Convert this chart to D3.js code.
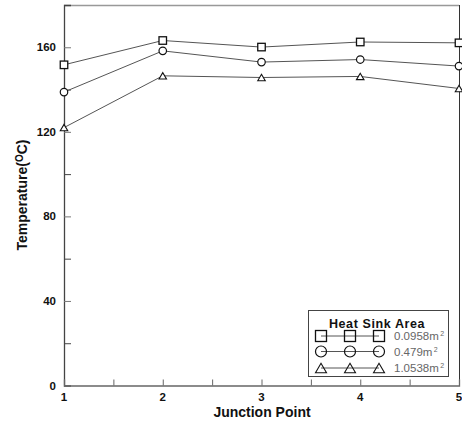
<!DOCTYPE html>
<html><head><meta charset="utf-8">
<script src="https://cdn.jsdelivr.net/npm/d3@7"></script>
<style>body{margin:0;background:#fff;} svg{display:block;font-family:"Liberation Sans",Arial,sans-serif;}</style>
</head><body><svg id="c" width="462" height="423"></svg>
<script>
const junctions = [1, 2, 3, 4, 5];
const seriesNames = ["0.0958", "0.479", "1.0538"];
const seriesShapes = ["square", "circle", "triangle"];
const area00958 = [151.7, 163.2, 160.1, 162.5, 162.1];
const area0479 = [138.8, 158.3, 153.0, 154.2, 151.1];
const area10538 = [122.0, 146.5, 145.7, 146.2, 140.5];
const seriesValues = [area00958, area0479, area10538];
const yMajorTicks = [0, 40, 80, 120, 160];
const yMinorTicks = [20, 60, 100, 140];
const xMajorTicks = [1, 2, 3, 4, 5];
const xMinorTicks = [1.5, 2.5, 3.5, 4.5];

const svg = d3.select("#c");
const L = 64, R = 459, T = 5, B = 385.5;
const x = d3.scaleLinear().domain([1, 5]).range([L, R]);
const y = d3.scaleLinear().domain([0, 180]).range([B, T]);

// frame
svg.append("line").attr("x1", L).attr("x2", R).attr("y1", T + 0.5).attr("y2", T + 0.5).attr("stroke", "#999").attr("stroke-width", 1.5);
svg.append("line").attr("x1", R + 0.5).attr("x2", R + 0.5).attr("y1", T).attr("y2", B).attr("stroke", "#333").attr("stroke-width", 1);

// y axis
const yAxis = d3.axisRight(y).tickValues(yMajorTicks).tickSize(7).tickFormat("");
const gy = svg.append("g").attr("transform", `translate(${L},0)`).call(yAxis);
gy.select(".domain").attr("stroke", "#444").attr("stroke-width", 1.3);
gy.selectAll(".tick line").attr("stroke", "#777");
const gy2 = svg.append("g").attr("transform", `translate(${L},0)`).call(d3.axisRight(y).tickValues(yMinorTicks).tickSize(7).tickFormat(""));
gy2.select(".domain").remove();
gy2.selectAll(".tick line").attr("stroke", "#444");
svg.append("g").selectAll("text").data(yMajorTicks).join("text")
  .attr("x", 56).attr("y", d => y(d) + 4).attr("text-anchor", "end")
  .attr("font-size", 11.5).attr("font-weight", "bold").attr("fill", "#111").text(d => d);

// x axis
const gx = svg.append("g").attr("transform", `translate(0,${B})`).call(d3.axisTop(x).tickValues(xMinorTicks.concat(xMajorTicks)).tickSize(6).tickFormat(""));
gx.select(".domain").attr("stroke", "#666").attr("stroke-width", 1.3);
gx.selectAll(".tick line").attr("stroke", "#666");
svg.append("g").selectAll("text").data(xMajorTicks).join("text")
  .attr("x", d => x(d)).attr("y", 401).attr("text-anchor", "middle")
  .attr("font-size", 11.5).attr("font-weight", "bold").attr("fill", "#111").text(d => d);

// axis titles
svg.append("text").attr("x", 262).attr("y", 417).attr("text-anchor", "middle")
  .attr("font-size", 14).attr("font-weight", "bold").attr("fill", "#111").text("Junction Point");
const yt = svg.append("text").attr("transform", "translate(27,195) rotate(-90)").attr("text-anchor", "middle")
  .attr("font-size", 14).attr("font-weight", "bold").attr("fill", "#111");
yt.append("tspan").text("Temperature(");
yt.append("tspan").attr("font-size", 10).attr("dy", -4).text("O");
yt.append("tspan").attr("dy", 4).text("C)");

// markers
function marker(g, shape, cx, cy, s, fill) {
  if (shape === "square") {
    g.append("rect").attr("x", cx - s / 2).attr("y", cy - s / 2).attr("width", s).attr("height", s)
      .attr("fill", fill).attr("stroke", "#111").attr("stroke-width", 1.3);
  } else if (shape === "circle") {
    g.append("circle").attr("cx", cx).attr("cy", cy).attr("r", s / 2)
      .attr("fill", fill).attr("stroke", "#111").attr("stroke-width", 1.2);
  } else {
    const h = s * 0.85;
    g.append("path").attr("d", `M${cx - s / 2},${cy + h / 2}L${cx},${cy - h / 2}L${cx + s / 2},${cy + h / 2}Z`)
      .attr("fill", fill).attr("stroke", "#111").attr("stroke-width", 1.1);
  }
}

const line = d3.line().x((d, i) => x(junctions[i])).y(d => y(d));
seriesValues.forEach((vals, si) => {
  svg.append("path").attr("d", line(vals)).attr("fill", "none").attr("stroke", "#555").attr("stroke-width", 1);
});
seriesValues.forEach((vals, si) => {
  const g = svg.append("g");
  vals.forEach((v, i) => marker(g, seriesShapes[si], x(junctions[i]), y(v), 7.5, "#fff"));
});

// legend
const lg = svg.append("g");
lg.append("rect").attr("x", 308.5).attr("y", 310.5).attr("width", 140).attr("height", 66)
  .attr("fill", "#fff").attr("stroke", "#444").attr("stroke-width", 1);
lg.append("text").attr("x", 377).attr("y", 328).attr("text-anchor", "middle")
  .attr("font-size", 12.5).attr("font-weight", "bold").attr("letter-spacing", 0.6).attr("fill", "#111").text("Heat Sink Area");
const rowY = [336, 351.5, 368];
const mx = [321, 350, 379];
seriesNames.forEach((n, i) => {
  lg.append("line").attr("x1", mx[0]).attr("x2", mx[2]).attr("y1", rowY[i]).attr("y2", rowY[i]).attr("stroke", "#555");
  mx.forEach(xx => marker(lg, seriesShapes[i], xx, rowY[i], 11, "none"));
  const t = lg.append("text").attr("x", 394).attr("y", rowY[i] + 4).attr("font-size", 11.5).attr("fill", "#666");
  t.append("tspan").text(n + "m");
  t.append("tspan").attr("font-size", 7).attr("dy", -4).attr("dx", 1.5).text("2");
});
</script></body></html>
